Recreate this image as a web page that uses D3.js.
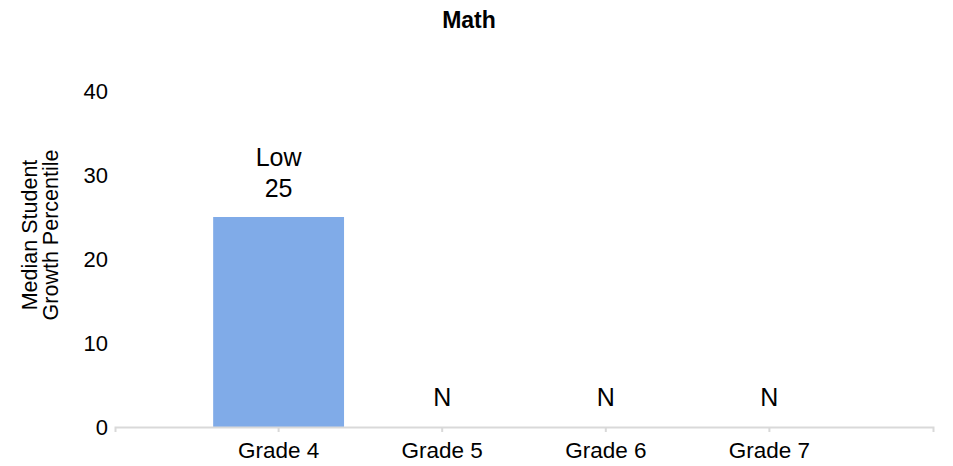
<!DOCTYPE html>
<html>
<head>
<meta charset="utf-8">
<script src="https://cdn.jsdelivr.net/npm/d3@7/dist/d3.min.js"></script>
<style>
  html, body { margin: 0; padding: 0; background: #fff; }
  svg { display: block; font-family: "Liberation Sans", Arial, sans-serif; }
</style>
</head>
<body>
<svg id="chart" width="953" height="466"></svg>
<script>
// Median student growth percentile by grade (null = not reported)
const grades = ["Grade 4", "Grade 5", "Grade 6", "Grade 7"];
const growthValues = [25, null, null, null];
const growthRatings = ["Low", null, null, null];
const missingLabel = "N";
const yTicks = [0, 10, 20, 30, 40];
const chartTitle = "Math";
const yTitleLines = ["Median Student", "Growth Percentile"];

const svg = d3.select("#chart");
const plot = { left: 115, right: 933, top: 91, bottom: 427 };

const x = d3.scaleBand()
  .domain(grades)
  .range([plot.left, plot.right])
  .paddingInner(0.2)
  .paddingOuter(0.6);

const y = d3.scaleLinear()
  .domain([0, 40])
  .range([plot.bottom, plot.top]);

// Title
svg.append("text")
  .attr("x", 469)
  .attr("y", 28)
  .attr("text-anchor", "middle")
  .attr("font-size", 23)
  .attr("font-weight", "bold")
  .attr("fill", "#000")
  .text(chartTitle);

// Y tick labels (no axis line)
svg.append("g")
  .selectAll("text")
  .data(yTicks)
  .join("text")
  .attr("x", 108)
  .attr("y", d => y(d))
  .attr("dy", "0.35em")
  .attr("text-anchor", "end")
  .attr("font-size", 22)
  .attr("fill", "#000")
  .text(d => d);

// Y axis title
const yTitle = svg.append("text")
  .attr("transform", "translate(0,235) rotate(-90)")
  .attr("text-anchor", "middle")
  .attr("font-size", 21.5)
  .attr("fill", "#000");
yTitle.selectAll("tspan")
  .data(yTitleLines)
  .join("tspan")
  .attr("x", 0)
  .attr("y", (d, i) => 37 + i * 20.5)
  .text(d => d);

// Bars
const data = grades.map((g, i) => ({ grade: g, value: growthValues[i], rating: growthRatings[i] }));

svg.append("g")
  .selectAll("rect")
  .data(data.filter(d => d.value != null))
  .join("rect")
  .attr("x", d => x(d.grade))
  .attr("width", x.bandwidth())
  .attr("y", d => y(d.value))
  .attr("height", d => y(0) - y(d.value))
  .attr("fill", "#80abe8");

// Bar labels: rating + value above each bar, "N" where there is no value
const labels = svg.append("g")
  .attr("font-size", 25)
  .attr("text-anchor", "middle")
  .attr("fill", "#000");

data.forEach(d => {
  const cx = x(d.grade) + x.bandwidth() / 2;
  if (d.value != null) {
    const top = y(d.value);
    labels.append("text").attr("x", cx).attr("y", top - 51).text(d.rating);
    labels.append("text").attr("x", cx).attr("y", top - 20).text(d.value);
  } else {
    labels.append("text").attr("x", cx).attr("y", y(0) - 21).text(missingLabel);
  }
});

// X axis
const xAxis = svg.append("g")
  .attr("transform", `translate(0,${plot.bottom})`)
  .call(d3.axisBottom(x).tickSize(5).tickSizeOuter(5).tickPadding(10));
xAxis.select(".domain").attr("stroke", "#d9d9d9").attr("stroke-width", 2);
xAxis.selectAll(".tick line").attr("stroke", "#d9d9d9").attr("stroke-width", 2);
xAxis.selectAll(".tick text")
  .attr("font-size", 22.5)
  .attr("font-family", "\"Liberation Sans\", Arial, sans-serif")
  .attr("fill", "#000");
</script>
</body>
</html>
